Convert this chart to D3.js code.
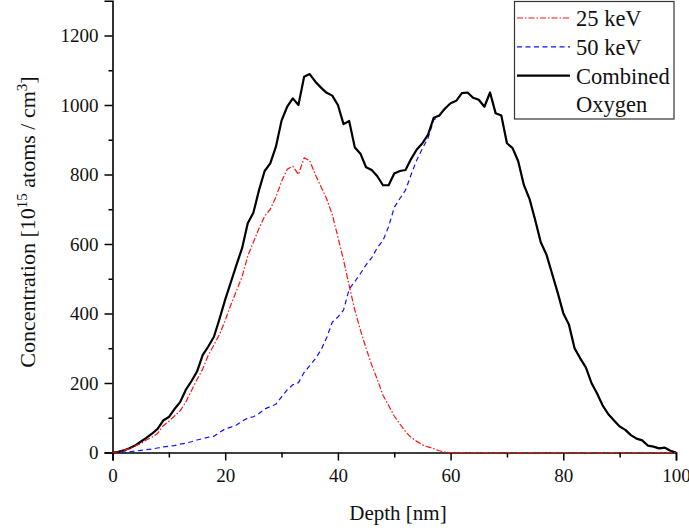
<!DOCTYPE html>
<html>
<head>
<meta charset="utf-8">
<script src="https://cdn.jsdelivr.net/npm/d3@7"></script>
<style>
  html, body { margin: 0; padding: 0; background: #fff; }
  svg { display: block; }
  text { font-family: "Liberation Serif", "Times New Roman", serif; fill: #111; }
</style>
</head>
<body>
<svg id="chart" width="689" height="532"></svg>
<script>
// ---- data ----
const depth = d3.range(0, 101); // 0..100 nm, 1 nm step

const combined = [0, 2, 6, 12, 20, 31, 42, 54, 68, 92,
  102, 125, 145, 180, 205, 233, 280, 305, 333, 385,
  440, 490, 540, 588, 660, 690, 755, 810, 832, 880,
  955, 995, 1019, 1000, 1081, 1089, 1067, 1050, 1035, 1027,
  1000, 945, 954, 878, 860, 821, 813, 795, 769, 769,
  803, 810, 813, 845, 872, 890, 915, 963, 970, 990,
  1005, 1012, 1034, 1036, 1021, 1015, 995, 1036, 976, 970,
  890, 876, 838, 770, 730, 670, 605, 570, 515, 460,
  401, 368, 300, 271, 245, 200, 170, 135, 110, 92,
  75, 65, 50, 40, 35, 20, 17, 12, 14, 5,
  0];

const kev25 = [0, 2, 6, 11, 19, 25, 36, 44, 55, 77,
  90, 105, 120, 145, 178, 210, 240, 280, 310, 340,
  380, 425, 465, 506, 565, 605, 645, 680, 700, 735,
  780, 815, 824, 800, 848, 840, 799, 765, 730, 685,
  620, 554, 480, 410, 352, 300, 252, 210, 165, 135,
  105, 82, 60, 43, 32, 22, 16, 11, 5, 1,
  0, 0, 0, 0, 0, 0, 0, 0, 0, 0,
  0, 0, 0, 0, 0, 0, 0, 0, 0, 0,
  0, 0, 0, 0, 0, 0, 0, 0, 0, 0,
  0, 0, 0, 0, 0, 0, 0, 0, 0, 0,
  0];

const kev50 = [0, 0, 1, 2, 4, 6, 8, 10, 13, 16,
  18, 20, 24, 27, 31, 36, 40, 44, 47, 58,
  68, 73, 79, 90, 99, 103, 112, 125, 132, 139,
  160, 180, 195, 201, 230, 250, 270, 295, 330, 375,
  390, 410, 470, 492, 515, 540, 560, 590, 610, 650,
  705, 731, 755, 800, 842, 875, 905, 957, 968, 989,
  1005, 1012, 1034, 1036, 1021, 1015, 995, 1036, 976, 970,
  890, 876, 838, 770, 730, 670, 605, 570, 515, 460,
  401, 368, 300, 271, 245, 200, 170, 135, 110, 92,
  75, 65, 50, 40, 35, 20, 17, 12, 14, 5,
  0];

const xTicks = [0, 20, 40, 60, 80, 100];
const yTicks = [0, 200, 400, 600, 800, 1000, 1200];
const legendLabels = ["25 keV", "50 keV", "Combined", "Oxygen"];

// ---- drawing ----
const svg = d3.select("#chart");
const x = d3.scaleLinear().domain([0, 100]).range([112.5, 676]);
const y = d3.scaleLinear().domain([0, 1300]).range([452.5, 0.75]);

const s25 = { values: kev25, color: "#ff1010", width: 1.2, dash: "6,2,1.5,2" };
const s50 = { values: kev50, color: "#1010ff", width: 1.2, dash: "5,3.5" };
const sC = { values: combined, color: "#000", width: 2.2, dash: null };

const line = d3.line().x((d, i) => x(depth[i])).y(d => y(d));

// axes
svg.append("g").attr("transform", `translate(0,${y(0)})`)
  .call(d3.axisBottom(x).tickValues(xTicks).tickSize(8).tickPadding(8).tickFormat(d3.format("d")));
svg.append("g").attr("transform", `translate(0,${y(0)})`)
  .call(d3.axisBottom(x).tickValues(d3.range(10, 100, 20)).tickSize(5).tickFormat(""))
  .select(".domain").remove();
svg.append("g").attr("transform", `translate(${x(0)},0)`)
  .call(d3.axisLeft(y).tickValues(yTicks).tickSize(8).tickPadding(6).tickFormat(d3.format("d")));
svg.append("g").attr("transform", `translate(${x(0)},0)`)
  .call(d3.axisLeft(y).tickValues(d3.range(100, 1300, 200)).tickSize(4).tickFormat(""))
  .select(".domain").remove();

svg.selectAll(".domain").attr("stroke", "#000").attr("stroke-width", 1.6);
svg.selectAll(".tick line").attr("stroke", "#000").attr("stroke-width", 1.5);
svg.selectAll(".tick text")
  .style("font-family", "'Liberation Serif', serif")
  .style("font-size", "19px")
  .attr("fill", "#111");

// series: blue below black, red on top
[s50, sC, s25].forEach(s => {
  svg.append("path")
    .datum(s.values)
    .attr("d", line)
    .attr("fill", "none")
    .attr("stroke", s.color)
    .attr("stroke-width", s.width)
    .attr("stroke-linejoin", "round")
    .attr("stroke-dasharray", s.dash);
});

// axis titles
svg.append("text")
  .attr("x", 398).attr("y", 520)
  .attr("text-anchor", "middle")
  .style("font-size", "21px")
  .text("Depth [nm]");

const yt = svg.append("text")
  .attr("transform", "translate(35,222) rotate(-90)")
  .attr("text-anchor", "middle")
  .style("font-size", "22px");
yt.append("tspan").text("Concentration [10");
yt.append("tspan").attr("dy", -8).style("font-size", "15px").text("15");
yt.append("tspan").attr("dy", 8).text(" atoms / cm");
yt.append("tspan").attr("dy", -8).style("font-size", "15px").text("3");
yt.append("tspan").attr("dy", 8).text("]");

// legend
const lg = svg.append("g");
lg.append("rect")
  .attr("x", 514.5).attr("y", 1.5).attr("width", 159.5).attr("height", 117.5)
  .attr("fill", "#fff").attr("stroke", "#333").attr("stroke-width", 1.2);
const rows = [s25, s50, sC, null];
legendLabels.forEach((lab, i) => {
  const yy = 18 + i * 28.8;
  const s = rows[i];
  if (s) {
    lg.append("line")
      .attr("x1", 517).attr("x2", 570).attr("y1", yy).attr("y2", yy)
      .attr("stroke", s.color).attr("stroke-width", s.width)
      .attr("stroke-dasharray", s.dash);
  }
  lg.append("text")
    .attr("x", 576).attr("y", yy + 8)
    .style("font-size", "22.5px")
    .text(lab);
});
</script>
</body>
</html>
